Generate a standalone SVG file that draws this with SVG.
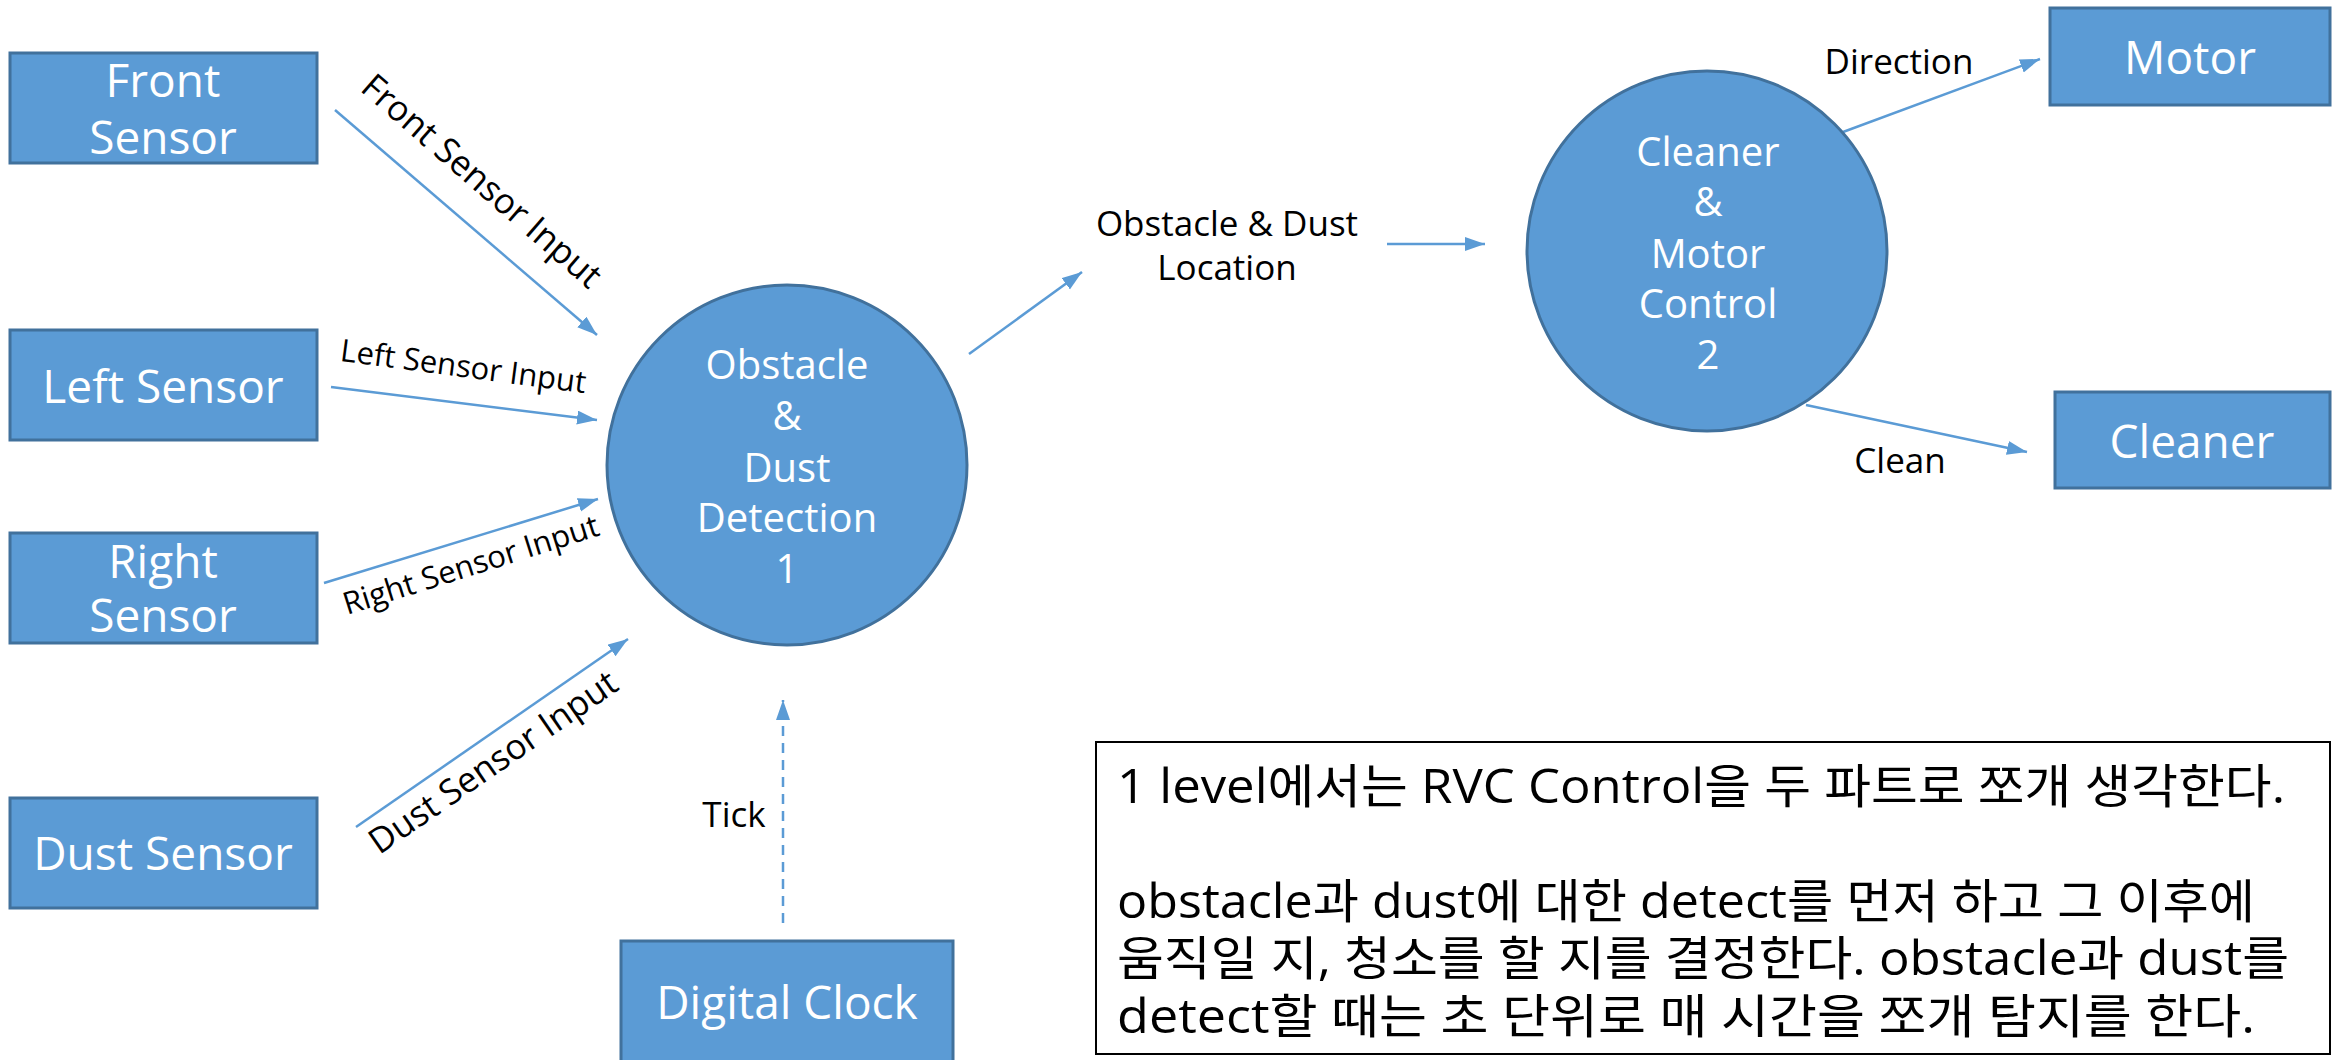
<svg xmlns="http://www.w3.org/2000/svg" width="2334" height="1060" viewBox="0 0 2334 1060">
<style>
.node{fill:#5B9BD5;stroke:#41719C;stroke-width:3}
.nt{fill:#FFFFFF;font-family:'Open Sans','Noto Sans CJK KR',sans-serif;text-anchor:middle}
.bt{font-size:46px}
.ct{font-size:40px}
.lbl{fill:#000000;font-family:'Open Sans','Noto Sans CJK KR',sans-serif;text-anchor:middle;font-size:35px}
.flow{stroke:#5B9BD5;stroke-width:2.5;fill:none;marker-end:url(#ah)}
.dash{stroke-dasharray:10 7}
.note{fill:#000000;font-family:'Open Sans','Noto Sans CJK KR',sans-serif;font-size:47px}
</style>
<defs>
<marker id="ah" markerUnits="userSpaceOnUse" markerWidth="22" markerHeight="16" refX="20" refY="7" orient="auto">
<path d="M0,0 L20,7 L0,14 z" fill="#5B9BD5"/>
</marker>
</defs>
<rect width="2334" height="1060" fill="#FFFFFF"/>
<g id="connectors">
<line class="flow" x1="335" y1="110" x2="597" y2="335"/>
<line class="flow" x1="331" y1="387" x2="597" y2="420"/>
<line class="flow" x1="324" y1="583" x2="598" y2="499"/>
<line class="flow" x1="356" y1="827" x2="628" y2="639"/>
<line class="flow dash" x1="783" y1="923" x2="783" y2="700"/>
<line class="flow" x1="969" y1="354" x2="1082" y2="272"/>
<line class="flow" x1="1387" y1="244" x2="1485" y2="244"/>
<line class="flow" x1="1843" y1="132" x2="2040" y2="59"/>
<line class="flow" x1="1806" y1="405" x2="2027" y2="452"/>
<text class="lbl" transform="translate(474,190) rotate(41)">Front Sensor Input</text>
<text class="lbl" style="font-size:31px" transform="translate(462,377) rotate(7.5)">Left Sensor Input</text>
<text class="lbl" style="font-size:31px" transform="translate(474,575) rotate(-17.5)">Right Sensor Input</text>
<text class="lbl" transform="translate(500,772) rotate(-34.6)">Dust Sensor Input</text>
<text class="lbl" x="734" y="827">Tick</text>
<text class="lbl" x="1227" y="236">Obstacle &amp; Dust</text>
<text class="lbl" x="1227" y="280">Location</text>
<text class="lbl" x="1899" y="74">Direction</text>
<text class="lbl" x="1900" y="473">Clean</text>
</g>
<g id="front-sensor">
<rect class="node" x="10" y="53" width="307" height="110"/>
<text class="nt bt" x="163" y="97">Front</text>
<text class="nt bt" x="163" y="154">Sensor</text>
</g>
<g id="left-sensor">
<rect class="node" x="10" y="330" width="307" height="110"/>
<text class="nt bt" x="163" y="403">Left Sensor</text>
</g>
<g id="right-sensor">
<rect class="node" x="10" y="533" width="307" height="110"/>
<text class="nt bt" x="163" y="578">Right</text>
<text class="nt bt" x="163" y="632">Sensor</text>
</g>
<g id="dust-sensor">
<rect class="node" x="10" y="798" width="307" height="110"/>
<text class="nt bt" x="163" y="870">Dust Sensor</text>
</g>
<g id="digital-clock">
<rect class="node" x="621" y="941" width="332" height="122"/>
<text class="nt bt" x="787" y="1019">Digital Clock</text>
</g>
<g id="process-1">
<circle class="node" cx="787" cy="465" r="180"/>
<text class="nt ct" x="787" y="379">Obstacle</text>
<text class="nt ct" x="787" y="430">&amp;</text>
<text class="nt ct" x="787" y="482">Dust</text>
<text class="nt ct" x="787" y="532">Detection</text>
<text class="nt ct" x="787" y="583">1</text>
</g>
<g id="process-2">
<circle class="node" cx="1707" cy="251" r="180"/>
<text class="nt ct" x="1708" y="166">Cleaner</text>
<text class="nt ct" x="1708" y="216">&amp;</text>
<text class="nt ct" x="1708" y="268">Motor</text>
<text class="nt ct" x="1708" y="318">Control</text>
<text class="nt ct" x="1708" y="369">2</text>
</g>
<g id="motor">
<rect class="node" x="2050" y="8" width="280" height="97"/>
<text class="nt bt" x="2190" y="74">Motor</text>
</g>
<g id="cleaner">
<rect class="node" x="2055" y="392" width="275" height="96"/>
<text class="nt bt" x="2192" y="458">Cleaner</text>
</g>
<g id="note">
<rect x="1096" y="742" width="1234" height="312" fill="none" stroke="#000000" stroke-width="2"/>
<text class="note" x="1117" y="803" textLength="1168" lengthAdjust="spacingAndGlyphs">1 level에서는 RVC Control을 두 파트로 쪼개 생각한다.</text>
<text class="note" x="1117" y="918" textLength="1138" lengthAdjust="spacingAndGlyphs">obstacle과 dust에 대한 detect를 먼저 하고 그 이후에</text>
<text class="note" x="1117" y="975" textLength="1172" lengthAdjust="spacingAndGlyphs">움직일 지, 청소를 할 지를 결정한다. obstacle과 dust를</text>
<text class="note" x="1117" y="1033" textLength="1138" lengthAdjust="spacingAndGlyphs">detect할 때는 초 단위로 매 시간을 쪼개 탐지를 한다.</text>
</g>
</svg>
